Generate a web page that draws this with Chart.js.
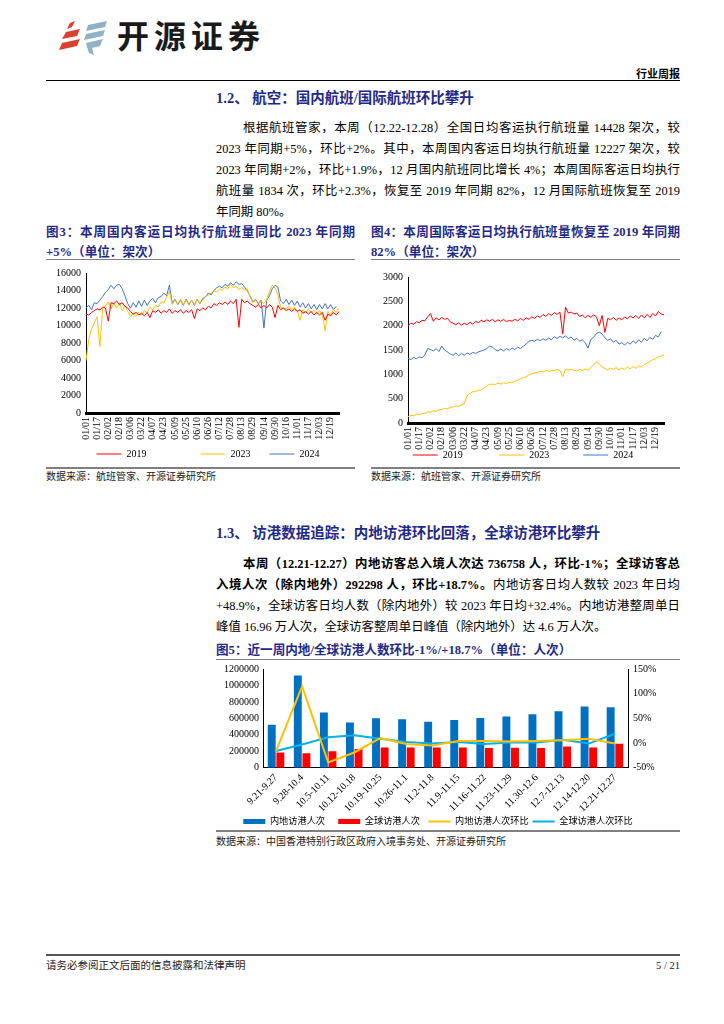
<!DOCTYPE html>
<html lang="zh-CN">
<head>
<meta charset="utf-8">
<title>行业周报</title>
<script src="https://cdn.jsdelivr.net/npm/chart.js@4.4.1/dist/chart.umd.min.js"></script>
<style>
  html, body { margin: 0; padding: 0; background: #fff; }
  body { width: 724px; height: 1024px; position: relative; overflow: hidden;
         font-family: "Liberation Serif", "Noto Sans CJK SC", serif; color: #000; }
  .a { position: absolute; }
  .rule { position: absolute; height: 0; }
  .brand { left: 117px; top: 14px; font: 700 32px/40px "Noto Sans CJK SC", sans-serif; letter-spacing: 5px; color: #1a1a1a; }
  .tag { left: 600px; width: 80px; top: 66px; text-align: right; font: 700 11px/14px "Noto Sans CJK SC", sans-serif; }
  .h { font-size: 14.5px; font-weight: bold; color: #1f2a88; line-height: 20px; height: 20px; white-space: nowrap; }
  .p { font-size: 12.4px; line-height: 20px; height: 20px; text-align: justify; text-align-last: justify; }
  .p.last { text-align-last: left; }
  .ft { font-size: 12.6px; font-weight: bold; color: #1f2a88; line-height: 20px; height: 20px; text-align: justify; text-align-last: justify; }
  .ft.last { text-align-last: left; }
  .src { font-size: 10px; line-height: 14px; color: #222; white-space: nowrap; }
  canvas { position: absolute; }
</style>
</head>
<body>

<!-- header -->
<svg class="a" style="left:58px;top:20px" width="54" height="36" viewBox="0 0 54 36">
  <polygon points="12,3 17,1 14,7 9,9" fill="#d9402e"/>
  <polygon points="8,12 22,9 19,16 4,19" fill="#d9402e"/>
  <polygon points="4,23 22,19 19,26 1,30" fill="#d9402e"/>
  <polygon points="30,5 49,1 47,7 28,11" fill="#8fb3c4"/>
  <polygon points="28,14 47,10 45,16 26,20" fill="#8fb3c4"/>
  <polygon points="28,23 45,19 42,26 34,28 36,35 31,33 29,27" fill="#8fb3c4"/>
</svg>
<div class="a brand">开源证券</div>
<div class="a tag">行业周报</div>
<div class="rule" style="left:46px;top:80px;width:634px;border-top:1px solid #000"></div>

<!-- 1.2 -->
<div class="a h" style="left:216px;top:88px">1.2、 航空：国内航班/国际航班环比攀升</div>
<div class="a p" style="left:243px;top:118px;width:437px">根据航班管家，本周（12.22-12.28）全国日均客运执行航班量 14428 架次，较</div>
<div class="a p" style="left:216px;top:139px;width:464px">2023 年同期+5%，环比+2%。其中，本周国内客运日均执行航班量 12227 架次，较</div>
<div class="a p" style="left:216px;top:160px;width:464px">2023 年同期+2%，环比+1.9%，12 月国内航班同比增长 4%；本周国际客运日均执行</div>
<div class="a p" style="left:216px;top:181px;width:464px">航班量 1834 次，环比+2.3%，恢复至 2019 年同期 82%，12 月国际航班恢复至 2019</div>
<div class="a p last" style="left:216px;top:202px;width:464px">年同期 80%。</div>

<div class="a ft" style="left:46px;top:222px;width:309px">图3：本周国内客运日均执行航班量同比 2023 年同期</div>
<div class="a ft last" style="left:46px;top:242px;width:309px">+5%（单位：架次）</div>
<div class="a ft" style="left:371px;top:222px;width:309px">图4：本周国际客运日均执行航班量恢复至 2019 年同期</div>
<div class="a ft last" style="left:371px;top:242px;width:309px">82%（单位：架次）</div>
<div class="rule" style="left:46px;top:259px;width:309px;border-top:1.5px solid #808080"></div>
<div class="rule" style="left:371px;top:259px;width:309px;border-top:1.5px solid #808080"></div>

<div class="rule" style="left:46px;top:467px;width:309px;border-top:2px solid #808080"></div>
<div class="rule" style="left:371px;top:467px;width:309px;border-top:2px solid #808080"></div>
<div class="a src" style="left:46px;top:470px">数据来源：航班管家、开源证券研究所</div>
<div class="a src" style="left:371px;top:470px">数据来源：航班管家、开源证券研究所</div>

<canvas id="chartDomestic" width="309" height="204" style="left:46px;top:262px"></canvas>
<canvas id="chartIntl" width="309" height="212" style="left:371px;top:262px"></canvas>

<!-- 1.3 -->
<div class="a h" style="left:216px;top:523px">1.3、 访港数据追踪：内地访港环比回落，全球访港环比攀升</div>
<div class="a p" style="left:243px;top:554px;width:437px;font-weight:bold">本周（12.21-12.27）内地访客总入境人次达 736758 人，环比-1%；全球访客总</div>
<div class="a p" style="left:216px;top:575px;width:464px"><b>入境人次（除内地外）292298 人，环比+18.7%。</b>内地访客日均人数较 2023 年日均</div>
<div class="a p" style="left:216px;top:596px;width:464px">+48.9%，全球访客日均人数（除内地外）较 2023 年日均+32.4%。内地访港整周单日</div>
<div class="a p last" style="left:216px;top:617px;width:464px">峰值 16.96 万人次，全球访客整周单日峰值（除内地外）达 4.6 万人次。</div>

<div class="a ft last" style="left:216px;top:640px;width:464px">图5：近一周内地/全球访港人数环比-1%/+18.7%（单位：人次）</div>
<div class="rule" style="left:216px;top:659px;width:464px;border-top:1.5px solid #808080"></div>
<div class="rule" style="left:216px;top:830px;width:464px;border-top:2px solid #808080"></div>
<div class="a src" style="left:216px;top:835px">数据来源：中国香港特别行政区政府入境事务处、开源证券研究所</div>
<canvas id="chartHK" width="464" height="179" style="left:216px;top:658px"></canvas>

<!-- footer -->
<div class="rule" style="left:46px;top:954px;width:634px;border-top:2px solid #555"></div>
<div class="a src" style="left:46px;top:959px;font-size:10.5px">请务必参阅正文后面的信息披露和法律声明</div>
<div class="a src" style="left:600px;top:959px;width:80px;text-align:right;font-size:10.5px">5 / 21</div>

<script>
// 图3 / 图4：每 4 天取一个点（01/01 ... 12/31）
var xTicks = ["01/01", "01/17", "02/02", "02/18", "03/06", "03/22", "04/07", "04/23", "05/09", "05/25", "06/10", "06/26",
  "07/12", "07/28", "08/13", "08/29", "09/14", "09/30", "10/16", "11/01", "11/17", "12/03", "12/19"];
var seriesNames = ["2019", "2023", "2024"];
var lineColors = ["#FF0000", "#FFC000", "#4472C4"];

var domestic2019 = [11300, 11200, 11500, 11700, 11900, 11800, 12100, 12000, 10500, 12600,
  12500, 12800, 12400, 12600, 12200, 12000, 11600, 11300, 11500, 11200,
  11400, 11100, 11500, 10900, 11700, 11500, 11800, 11400, 11700, 11500,
  11900, 11400, 11700, 11500, 11800, 11400, 11700, 11500, 11800, 10800,
  11900, 11700, 12000, 11800, 12200, 12000, 12500, 12300, 12600, 12400,
  12700, 12400, 12800, 12500, 13000, 9800, 13000, 12600, 12800, 12500,
  12300, 12100, 12400, 12000, 12300, 12000, 12400, 12100, 10900, 12300,
  11800, 12000, 11700, 11900, 11600, 11900, 11600, 11800, 11400, 11600,
  11300, 11600, 11200, 11500, 11200, 11500, 10600, 11300, 11100, 11500,
  11200, 11600];
var domestic2023 = [6000, 8400, 9600, 10300, 11000, 7600, 12000, 12200, 12700, 11900,
  12500, 12000, 12600, 11700, 12300, 11600, 11000, 11400, 11000, 11500,
  11200, 11700, 11500, 12100, 11800, 12300, 12100, 12700, 12600, 13200,
  13900, 12400, 12900, 12500, 13000, 12400, 12900, 12300, 12900, 12400,
  13000, 12500, 12900, 13300, 13500, 13700, 14000, 13800, 14200, 14000,
  14400, 14200, 14700, 14300, 14500, 14100, 14400, 14000, 14200, 13300,
  12600, 12900, 12400, 12800, 12500, 12900, 13900, 14600, 14300, 13500,
  12100, 12000, 11900, 12200, 11800, 12100, 11700, 10600, 11800, 11400,
  11900, 11500, 11800, 11300, 11700, 11200, 9400, 11600, 11200, 11800,
  11500, 12000];
var domestic2024 = [12000, 12300, 11800, 12600, 12500, 12900, 13300, 13800, 14100, 14600,
  14200, 14600, 14700, 14200, 13400, 12500, 12000, 12600, 12100, 12800,
  12200, 12900, 12300, 12800, 13100, 12600, 13200, 13300, 13700, 13400,
  14600, 12600, 13000, 12400, 12900, 12300, 13000, 12400, 12900, 12300,
  13000, 12500, 13100, 13300, 13700, 13500, 14000, 14300, 14500, 14300,
  14700, 14500, 14900, 14600, 15000, 14700, 14800, 14400, 14000, 13400,
  12700, 13000, 12500, 12900, 9700, 12900, 13400, 14200, 14600, 14400,
  12800, 12500, 13000, 12400, 12900, 12300, 12800, 12100, 12600, 12000,
  12500, 11900, 12400, 11800, 12400, 11900, 12500, 11900, 12400, 11800,
  12200, null];

var intl2019 = [2000, 2050, 2030, 2080, 2060, 2110, 2100, 2180, 2250, 2090,
  2160, 2120, 2170, 2130, 2150, 2080, 2050, 2020, 2060, 2010,
  2050, 2020, 2070, 2030, 2090, 2060, 2110, 2080, 2120, 2090,
  2130, 2080, 2120, 2090, 2130, 2080, 2110, 2090, 2130, 2100,
  2150, 2110, 2160, 2130, 2180, 2150, 2200, 2170, 2230, 2190,
  2250, 2210, 2270, 2230, 2280, 1830, 2380, 2260, 2280, 2240,
  2260, 2190, 2220, 2160, 2210, 2170, 2220, 2180, 2000, 2210,
  1860, 2150, 2120, 2170, 2110, 2160, 2120, 2180, 2140, 2200,
  2160, 2210, 2150, 2220, 2160, 2230, 2170, 2250, 2200, 2290,
  2240, 2220];
var intl2023 = [130, 160, 150, 180, 170, 200, 190, 230, 220, 250,
  240, 270, 280, 300, 290, 320, 330, 350, 340, 370,
  400, 560, 610, 640, 650, 670, 680, 720, 760, 790,
  800, 790, 820, 800, 830, 810, 840, 830, 860, 880,
  910, 930, 950, 990, 1010, 1030, 1040, 1060, 1050, 1080,
  1060, 1080, 1070, 1100, 1080, 950, 1100, 1090, 1110, 1080,
  1070, 1100, 1080, 1110, 1090, 1140, 1200, 1250, 1220, 1150,
  1120, 1090, 1130, 1100, 1140, 1090, 1130, 1100, 1150, 1110,
  1160, 1120, 1180, 1150, 1200, 1230, 1260, 1300, 1320, 1360,
  1380, 1400];
var intl2024 = [1330, 1300, 1350, 1320, 1360, 1340, 1400, 1530, 1510, 1480,
  1530, 1470, 1580, 1500, 1460, 1420, 1390, 1440, 1380, 1430,
  1390, 1440, 1410, 1450, 1430, 1460, 1480, 1500, 1530, 1580,
  1560, 1510, 1480, 1520, 1480, 1530, 1490, 1540, 1510, 1560,
  1530, 1580, 1620, 1680, 1700, 1680, 1720, 1690, 1730, 1700,
  1750, 1710, 1770, 1740, 1780, 1750, 1790, 1730, 1770, 1700,
  1740, 1680, 1710, 1650, 1540, 1720, 1760, 1840, 1870, 1830,
  1750, 1700, 1730, 1660, 1700, 1620, 1650, 1600, 1660, 1620,
  1690, 1640, 1710, 1660, 1740, 1690, 1760, 1720, 1800, 1770,
  1880, null];

// 图5
var weeks = ["9.21-9.27", "9.28-10.4", "10.5-10.11", "10.12-10.18", "10.19-10.25", "10.26-11.1", "11.2-11.8",
  "11.9-11.15", "11.16-11.22", "11.23-11.29", "11.30-12.6", "12.7-12.13", "12.14-12.20", "12.21-12.27"];
var mainlandVisitors = [523000, 1121000, 673000, 551000, 602000, 590000, 559000, 582000, 606000, 622000, 649000, 688000, 744000, 736758];
var globalVisitors = [185000, 177000, 200000, 228000, 248000, 248000, 246000, 248000, 240000, 244000, 240000, 258000, 246000, 292298];
var mainlandQoQ = [-16, 115, -39, -19, 10, -2, -5, 4, 4, 3, 4, 6, 9, -1];
var globalQoQ = [-16, -3, 12, 16, 9, 2, -1, 2, -2, 1, 1, 7, -1, 19];

Chart.defaults.font.family = '"Liberation Serif", "Noto Sans CJK SC", serif';
Chart.defaults.color = "#000";
Chart.defaults.animation = false;

// category per sampled day, tick shown every 16 days
var days = [];
for (var i = 0; i < domestic2019.length; i++) {
  var d = new Date(2023, 0, 1 + i * 4);
  days.push(String(d.getMonth() + 1).padStart(2, "0") + "/" + String(d.getDate()).padStart(2, "0"));
}

// moves the legend box after layout so it sits where the report has it
var nudgeLegend = {
  id: "nudgeLegend",
  afterLayout: function (chart, args, opts) {
    var lg = chart.legend;
    var dx = opts.dx || 0, dy = opts.dy || 0;
    lg.left += dx; lg.right += dx;
    lg.top += dy; lg.bottom += dy;
  },
};

// trailing no-break spaces spread the legend entries apart
function spacedLabels(gaps) {
  return function (chart) {
    var items = Chart.defaults.plugins.legend.labels.generateLabels(chart);
    items.sort(function (a, b) { return a.datasetIndex - b.datasetIndex; });
    items.forEach(function (it, k) { it.text += "\u00a0".repeat(gaps[k] || 0); });
    return items;
  };
}

function flightChart(id, series, yMax, yStep, yWidth, xHeight, padTop, gaps, nudge) {
  var ctx = document.getElementById(id).getContext("2d");
  return new Chart(ctx, {
    type: "line",
    data: {
      labels: days,
      datasets: seriesNames.map(function (name, k) {
        return {
          label: name,
          data: series[k],
          borderColor: lineColors[k],
          backgroundColor: lineColors[k],
          borderWidth: 1,
          pointRadius: 0,
          tension: 0,
        };
      }),
    },
    options: {
      responsive: false,
      layout: { padding: { top: padTop, right: 13, left: 0, bottom: 0 } },
      scales: {
        x: {
          grid: { display: false, drawTicks: false },
          border: { display: true, color: "#000", width: 3 },
          ticks: {
            autoSkip: false, minRotation: 90, maxRotation: 90, padding: 4, font: { size: 10 },
            callback: function (v, i) { return xTicks.indexOf(days[i]) >= 0 ? days[i] : ""; },
          },
          afterFit: function (s) { s.height = xHeight; },
        },
        y: {
          min: 0, max: yMax,
          grid: { display: false, drawTicks: false },
          border: { display: true, color: "#000", width: 1 },
          ticks: { stepSize: yStep, padding: 5, font: { size: 10 }, callback: function (v) { return String(v); } },
          afterFit: function (s) { s.width = yWidth; },
        },
      },
      plugins: {
        tooltip: { enabled: false },
        nudgeLegend: nudge,
        legend: {
          position: "bottom",
          labels: {
            usePointStyle: true, pointStyle: "line", pointStyleWidth: 25, padding: 4,
            font: { size: 10 },
            generateLabels: spacedLabels(gaps),
          },
        },
      },
    },
    plugins: [nudgeLegend],
  });
}

flightChart("chartDomestic", [domestic2019, domestic2023, domestic2024], 16000, 2000, 40, 29, 10, [20, 6], { dx: 14, dy: 3 });
flightChart("chartIntl", [intl2019, intl2023, intl2024], 3000, 500, 37, 27, 15, [13, 12], { dx: 4, dy: -4 });

var ctx = document.getElementById("chartHK").getContext("2d");
var hkChart = new Chart(ctx, {
  data: {
    labels: weeks,
    datasets: [
      {
        type: "bar", label: "内地访港人次", data: mainlandVisitors, yAxisID: "y",
        backgroundColor: "#0070C0", borderWidth: 0, pointStyle: "rect",
        barPercentage: 0.92, categoryPercentage: 0.66, order: 2,
      },
      {
        type: "bar", label: "全球访港人次", data: globalVisitors, yAxisID: "y",
        backgroundColor: "#FF0000", borderWidth: 0, pointStyle: "rect",
        barPercentage: 0.92, categoryPercentage: 0.66, order: 2,
      },
      {
        type: "line", label: "内地访港人次环比", data: mainlandQoQ, yAxisID: "y1",
        borderColor: "#FFC000", backgroundColor: "#FFC000", borderWidth: 2,
        pointRadius: 0, pointStyle: "line", tension: 0, order: 1,
      },
      {
        type: "line", label: "全球访港人次环比", data: globalQoQ, yAxisID: "y1",
        borderColor: "#00B0F0", backgroundColor: "#00B0F0", borderWidth: 2,
        pointRadius: 0, pointStyle: "line", tension: 0, order: 1,
      },
    ],
  },
  options: {
    responsive: false,
    layout: { padding: { top: 8, right: 0, left: 0, bottom: 0 } },
    scales: {
      x: {
        grid: { display: false, drawTicks: false },
        border: { display: true, color: "#000", width: 1 },
        ticks: { autoSkip: false, minRotation: 45, maxRotation: 45, padding: 4, font: { size: 10 } },
        afterFit: function (s) { s.height = 46; },
      },
      y: {
        position: "left", min: 0, max: 1200000,
        grid: { display: false, drawTicks: false },
        border: { display: true, color: "#000", width: 1 },
        ticks: { stepSize: 200000, padding: 4, font: { size: 10 }, callback: function (v) { return String(v); } },
        afterFit: function (s) { s.width = 47; },
      },
      y1: {
        position: "right", min: -50, max: 150,
        grid: { display: false, drawTicks: false },
        border: { display: true, color: "#000", width: 1 },
        ticks: { stepSize: 50, padding: 5, font: { size: 10 }, callback: function (v) { return v + "%"; } },
        afterFit: function (s) { s.width = 52; },
      },
    },
    plugins: {
      tooltip: { enabled: false },
      nudgeLegend: { dx: -10, dy: -1 },
      legend: {
        position: "bottom",
        labels: {
          usePointStyle: true, pointStyleWidth: 22, boxHeight: 5, padding: 4, font: { size: 9.2 },
          generateLabels: spacedLabels([4, 2, 0]),
        },
      },
    },
  },
  plugins: [nudgeLegend],
});
</script>
</body>
</html>
